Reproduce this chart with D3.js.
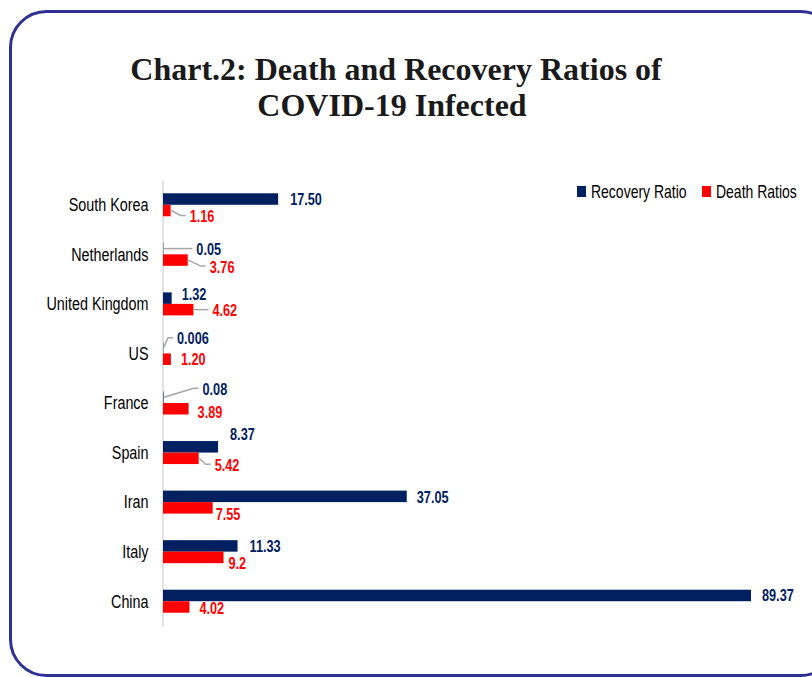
<!DOCTYPE html>
<html>
<head>
<meta charset="utf-8">
<script src="https://cdn.jsdelivr.net/npm/d3@7"></script>
<style>
  body { margin: 0; background: #fff; }
  #svg-container { width: 812px; height: 677px; }
  .cat text { font-family: "Liberation Sans", Arial, sans-serif; font-size: 18.5px; fill: #000; }
  .val { font-family: "Liberation Sans", Arial, sans-serif; font-size: 16.5px; font-weight: bold; }
  .legend text { font-family: "Liberation Sans", Arial, sans-serif; font-size: 17.5px; fill: #000; }
  .title { font-family: "Liberation Serif", "Times New Roman", serif; font-size: 32px; font-weight: bold; fill: #1a1a1a; }
</style>
</head>
<body>
<div id="svg-container"></div>
<script>
// data
const countries = ["South Korea", "Netherlands", "United Kingdom", "US", "France", "Spain", "Iran", "Italy", "China"];
const recovery = [17.5, 0.05, 1.32, 0.006, 0.08, 8.37, 37.05, 11.33, 89.37];
const death = [1.16, 3.76, 4.62, 1.2, 3.89, 5.42, 7.55, 9.2, 4.02];
const recoveryText = ["17.50", "0.05", "1.32", "0.006", "0.08", "8.37", "37.05", "11.33", "89.37"];
const deathText = ["1.16", "3.76", "4.62", "1.20", "3.89", "5.42", "7.55", "9.2", "4.02"];
const seriesNames = ["Recovery Ratio", "Death Ratios"];

// label placement (pixel nudges from the bar end, like dragged Excel labels)
const recNudge = [
  { dx: 12, dy: 0 }, { dx: 33, dy: 1, leader: true }, { dx: 10, dy: -4 },
  { dx: 14, dy: -9, leader: true }, { dx: 39, dy: -8, leader: true }, { dx: 12, dy: -13 },
  { dx: 10, dy: 1 }, { dx: 12, dy: 0 }, { dx: 11, dy: 0 }
];
const deathNudge = [
  { dx: 19, dy: 6, leader: true }, { dx: 22, dy: 7, leader: true }, { dx: 19, dy: 1, leader: true },
  { dx: 10, dy: 0 }, { dx: 9, dy: 3 }, { dx: 16, dy: 7, leader: true },
  { dx: 3, dy: 6 }, { dx: 5, dy: 6 }, { dx: 10, dy: 1 }
];

const colors = ["#002060", "#ff0000"];

const width = 812, height = 677;
const svg = d3.select("#svg-container").append("svg")
  .attr("width", width).attr("height", height);

// frame
svg.append("rect")
  .attr("x", 10.5).attr("y", 11.5)
  .attr("width", 826).attr("height", 664)
  .attr("rx", 36).attr("ry", 36)
  .attr("fill", "#fff")
  .attr("stroke", "#2e3192")
  .attr("stroke-width", 3);

// title
svg.append("text").attr("class", "title")
  .attr("x", 396).attr("y", 80).attr("text-anchor", "middle")
  .text("Chart.2: Death and Recovery Ratios of");
svg.append("text").attr("class", "title")
  .attr("x", 392).attr("y", 116).attr("text-anchor", "middle")
  .text("COVID-19 Infected");

// scales
const xScale = d3.scaleLinear()
  .domain([0, d3.max(recovery)])
  .range([163, 751]);

const yScale = d3.scaleBand()
  .domain(countries)
  .range([180, 626]);

const barH = 11.5;

// no condensed sans installed -> squeeze Liberation Sans horizontally around its x
function squeeze(sel, k) {
  sel.each(function () {
    const x = +d3.select(this).attr("x") || 0;
    d3.select(this).attr("transform", `translate(${x},0) scale(${k},1) translate(${-x},0)`);
  });
}

// axis
svg.append("g")
  .attr("class", "cat")
  .attr("transform", `translate(${xScale(0) - 0.5},0)`)
  .call(d3.axisLeft(yScale).tickSize(0).tickPadding(14).tickSizeOuter(0))
  .call((g) => g.select(".domain").attr("stroke", "#d9d9d9").attr("stroke-width", 1.5))
  .call((g) => g.selectAll("text").attr("dy", "0.34em").call(squeeze, 0.776));

// bars
const rows = countries.map((c, i) => ({
  c, i, rec: recovery[i], dth: death[i]
}));

svg.append("g").selectAll("rect")
  .data(rows).join("rect")
  .attr("x", xScale(0))
  .attr("y", (d) => yScale(d.c) + yScale.bandwidth() / 2 - barH)
  .attr("width", (d) => Math.max(xScale(d.rec) - xScale(0), 0.3))
  .attr("height", barH)
  .attr("fill", colors[0]);

svg.append("g").selectAll("rect")
  .data(rows).join("rect")
  .attr("x", xScale(0))
  .attr("y", (d) => yScale(d.c) + yScale.bandwidth() / 2)
  .attr("width", (d) => xScale(d.dth) - xScale(0))
  .attr("height", barH)
  .attr("fill", colors[1]);

// labels + leader lines
function drawLabels(values, texts, nudges, color, offset) {
  const g = svg.append("g");
  values.forEach((v, i) => {
    const x0 = xScale(v);
    const y0 = yScale(countries[i]) + yScale.bandwidth() / 2 + offset;
    const n = nudges[i];
    const lx = x0 + n.dx;
    const ly = y0 + n.dy;
    if (n.leader) {
      g.append("polyline")
        .attr("points", [[x0 + 0.5, y0], [lx - 9, ly - 1], [lx - 4, ly - 1]].map((p) => p.join(",")).join(" "))
        .attr("fill", "none")
        .attr("stroke", "#a6a6a6")
        .attr("stroke-width", 1.5);
    }
    g.append("text")
      .attr("class", "val")
      .attr("x", lx).attr("y", ly)
      .attr("dy", "0.35em")
      .attr("fill", color)
      .text(texts[i])
      .call(squeeze, 0.77);
  });
}
drawLabels(recovery, recoveryText, recNudge, colors[0], -barH / 2);
drawLabels(death, deathText, deathNudge, colors[1], barH / 2);

// legend
const legend = svg.append("g").attr("class", "legend");
const legendX = [577, 702];
seriesNames.forEach((name, i) => {
  legend.append("rect")
    .attr("x", legendX[i]).attr("y", 186)
    .attr("width", 9).attr("height", 11)
    .attr("fill", colors[i]);
  legend.append("text")
    .attr("x", legendX[i] + 14).attr("y", 192)
    .attr("dy", "0.35em")
    .text(name)
    .call(squeeze, 0.8);
});
</script>
</body>
</html>
